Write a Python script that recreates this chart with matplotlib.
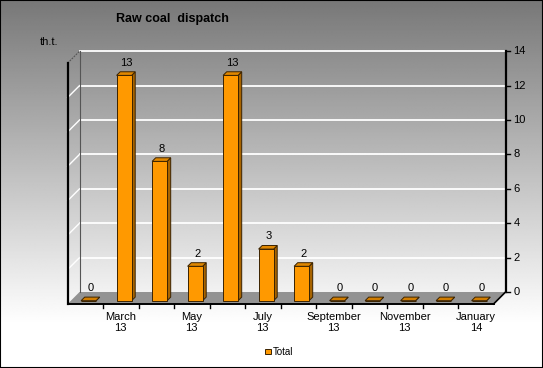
import matplotlib
matplotlib.use('Agg')
import matplotlib.pyplot as plt
import numpy as np
from matplotlib.patches import Polygon, Rectangle, Patch

plt.rcParams['font.family'] = ['Liberation Sans', 'DejaVu Sans']

# data
months = ['February\n13', 'March\n13', 'April\n13', 'May\n13', 'June\n13', 'July\n13',
          'August\n13', 'September\n13', 'October\n13', 'November\n13', 'December\n13',
          'January\n14']
total = [0, 13.1, 8.1, 2.0, 13.1, 3.0, 2.0, 0, 0, 0, 0, 0]
y_ticks = [0, 2, 4, 6, 8, 10, 12, 14]

W, H = 543, 368
fig = plt.figure(figsize=(W / 100, H / 100), dpi=100)
ax = fig.add_axes([0, 0, 1, 1])

# front plane: category i centre at pixel 85.3 + 35.5*i, value 0 at pixel row 304
px_cat, px_val = 35.5, 17.2
x0, y0 = 85.3, 304
ax.set_xlim(-x0 / px_cat, (W - x0) / px_cat)
ax.set_ylim((y0 - H) / px_val, y0 / px_val)
ax.axis('off')

DX, DY = 12 / px_cat, 12 / px_val   # depth offset (front -> back wall)


def proj(x, v, z):
    return (x + z * DX, v + z * DY)


# background gradient
g = np.clip(0.47 + 0.53 * np.linspace(0, 1, 300) / 0.88, 0, 1)
grad = np.repeat(g[:, None], 2, axis=1)
xmin, xmax = ax.get_xlim()
ymin, ymax = ax.get_ylim()
ax.imshow(grad, cmap='gray', vmin=0, vmax=1, aspect='auto', zorder=0,
          extent=[xmin, xmax, ymin, ymax], origin='upper', interpolation='bilinear')

xl, xr = -0.5, len(months) - 0.5
top = y_ticks[-1]

# floor
floor = [proj(xl, 0, 0), proj(xr, 0, 0), proj(xr, 0, 1), proj(xl, 0, 1)]
ax.add_patch(Polygon(floor, closed=True, facecolor='#939393', edgecolor='none', zorder=1))

# gridlines on back wall and left wall
for v in y_ticks[1:]:
    ax.plot(*zip(proj(xl, v, 1), proj(xr, v, 1)), color='white', lw=1.3, zorder=1)
    if v < top:
        ax.plot(*zip(proj(xl, v, 0), proj(xl, v, 1)), color='white', lw=1.0, zorder=1)
ax.plot(*zip(proj(xl, top, 0), proj(xl, top, 1)), color='#505050', lw=0.7, ls=(0, (2, 1)), zorder=1)
ax.plot(*zip(proj(xl, 0, 1), proj(xl, top, 1)), color='#555555', lw=0.8, zorder=1)

# right value axis
ax.plot(*zip(proj(xr, 0, 1), proj(xr, top, 1)), color='black', lw=1.6, zorder=2)
for v in y_ticks:
    bx, by = proj(xr, v, 1)
    ax.plot([bx, bx + 4 / px_cat], [by, by], color='black', lw=1.0, zorder=2)
    ax.text(bx + 8 / px_cat, by, str(v), fontsize=8, ha='left', va='center', zorder=3)

# left front edge
ax.plot(*zip(proj(xl, 0, 0), proj(xl, top, 0)), color='black', lw=1.6, zorder=2)

# floor edges
ax.plot(*zip(proj(xl, 0, 0), proj(xr, 0, 0)), color='black', lw=1.4, zorder=2)
ax.plot(*zip(proj(xr, 0, 0), proj(xr, 0, 1)), color='black', lw=1.2, zorder=2)

# category ticks and labels
for k in range(len(months) - 1):
    ax.plot([k + 0.5, k + 0.5], [0, -4 / px_val], color='black', lw=1.0, zorder=2)
for i, m in enumerate(months):
    if i % 2 == 1:
        ax.text(i, -8 / px_val, m, fontsize=8, ha='center', va='top', linespacing=1.15, zorder=3)

# bars
hw = 7.5 / px_cat
zf, zb = 0.275, 0.575
edge = '#3a2200'
for i, v in enumerate(total):
    fl, fr = i - hw, i + hw
    front = [proj(fl, 0, zf), proj(fr, 0, zf), proj(fr, v, zf), proj(fl, v, zf)]
    side = [proj(fr, 0, zf), proj(fr, 0, zb), proj(fr, v, zb), proj(fr, v, zf)]
    topf = [proj(fl, v, zf), proj(fr, v, zf), proj(fr, v, zb), proj(fl, v, zb)]
    ax.add_patch(Polygon(side, closed=True, facecolor='#A86400', edgecolor=edge, lw=0.7, zorder=4))
    ax.add_patch(Polygon(front, closed=True, facecolor='#FF9900', edgecolor=edge, lw=0.7, zorder=4))
    ax.add_patch(Polygon(topf, closed=True, facecolor='#E08700' if v > 0 else '#D07C00',
                         edgecolor=edge, lw=0.7, zorder=4))
    lx, ly = proj(i, v, 0.45)
    ax.annotate(f'{v:.0f}', (lx, ly), xytext=(0, 4), textcoords='offset points',
                fontsize=8, ha='center', va='bottom', zorder=5)

# titles
fig.text(172 / W, 1 - 19 / H, 'Raw coal  dispatch', fontsize=9, fontweight='bold',
         ha='center', va='center')
fig.text(49 / W, 1 - 42 / H, 'th.t.', fontsize=8, ha='center', va='center')

# legend
ax.legend(handles=[Patch(facecolor='#FF9900', edgecolor=edge, lw=0.7, label='Total')],
          loc='center', bbox_to_anchor=(279 / W, 1 - 352 / H), frameon=False, fontsize=7,
          handlelength=0.55, handleheight=0.55, handletextpad=0.2, borderpad=0)

# outer border
fig.patches.append(Rectangle((0, 0), 1, 1, transform=fig.transFigure, fill=False,
                             edgecolor='black', lw=1.5))

fig.savefig('out.png', dpi=100)
